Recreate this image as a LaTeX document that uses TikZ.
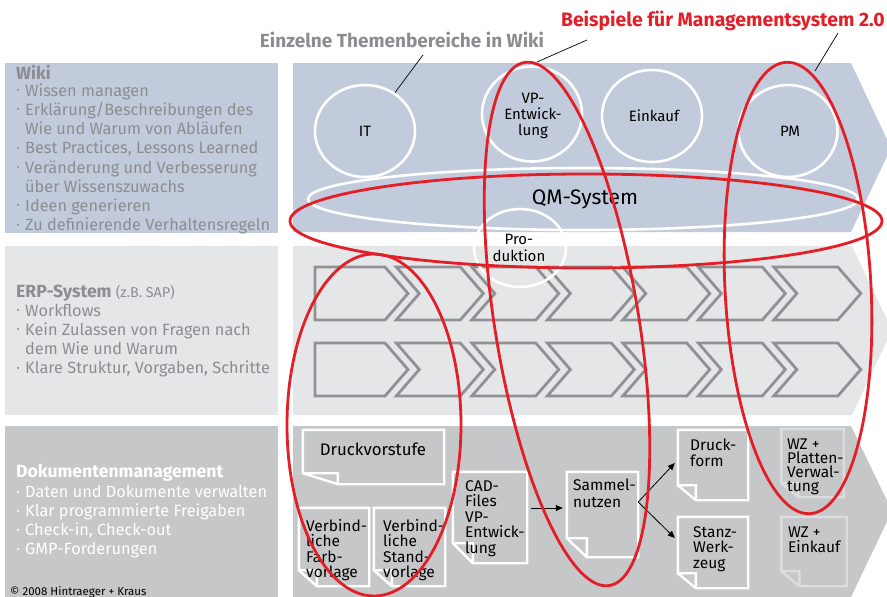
\documentclass[tikz,border=0pt]{standalone}
\usepackage{fontspec}
\setmainfont{Fira Sans}
\usetikzlibrary{shapes.geometric,arrows.meta}
\definecolor{wikibg}{HTML}{C2CBDB}
\definecolor{erpbg}{HTML}{E5E6E8}
\definecolor{dokbg}{HTML}{C6C7C9}
\definecolor{txtgray}{HTML}{8C8D90}
\definecolor{chevgray}{HTML}{909195}
\definecolor{mred}{HTML}{E41E26}
\definecolor{lightdoc}{HTML}{DCDDDF}
\newcommand\bul{\makebox[9pt][l]{\hspace{0.5pt}\raisebox{0.3ex}{\fontsize{9}{9}\selectfont •}}}
\newcommand\ind{\hspace*{9pt}}
\newcommand\docpage[4]{\draw[#4] (#1.north west) -- (#1.north east) -- (#1.south east) -- ([xshift=#2 pt]#1.south west) -- ([xshift=#2 pt,yshift=#3 pt]#1.south west) -- ([yshift=#3 pt]#1.south west) -- cycle ([yshift=#3 pt]#1.south west) -- ([xshift=#2 pt]#1.south west);}
\begin{document}
\begin{tikzpicture}[x=1pt,y=-1pt,
  leftpanel/.style={rectangle, inner sep=0pt, anchor=north west, minimum width=273pt},
  topic/.style={ellipse, draw=white, line width=2.6pt, inner sep=0pt},
  ctext/.style={font=\fontsize{15}{16}\selectfont, align=center, inner sep=0pt},
  redring/.style={ellipse, draw=mred, line width=2.8pt, inner sep=0pt},
  chev/.style={draw=chevgray, line width=2.8pt, line join=miter},
  docframe/.style={rectangle, inner sep=0pt},
  docline/.style={draw=white, line width=2.4pt},
  doclight/.style={draw=lightdoc, line width=2.4pt},
  doctext/.style={font=\fontsize{15.5}{15.5}\selectfont, align=left, inner sep=0pt, anchor=base west},
  lefttext/.style={font=\fontsize{16.3}{19.2}\selectfont, align=left, inner sep=0pt, anchor=base west},
  lefthead/.style={font=\fontsize{17.6}{19.2}\selectfont\bfseries, inner sep=0pt, anchor=base west},
  leader/.style={draw=black, line width=0.7pt},
  flow/.style={-{Triangle[length=7pt,width=6pt]}, line width=0.8pt}]
\useasboundingbox (0,0) rectangle (887,597);
\fill[white] (0,0) rectangle (887,597);
% left panels
\node[leftpanel, fill=wikibg, minimum height=170pt] (wikipanel) at (5,63) {};
\node[leftpanel, fill=erpbg, minimum height=169pt] (erppanel) at (5,246) {};
\node[leftpanel, fill=dokbg, minimum height=171pt] (dokpanel) at (5,426) {};
% right panels
\fill[wikibg] (293,63) -- (851,63) -- (891,148) -- (851,232) -- (293,232) -- cycle;
\fill[erpbg] (293,246) -- (852,246) -- (892,330) -- (852,415) -- (293,415) -- cycle;
\fill[dokbg] (293,426) -- (851,426) -- (892,511) -- (851,597) -- (293,597) -- cycle;
% titles
\node[font=\fontsize{19}{19}\selectfont\bfseries, text=txtgray, inner sep=0pt, anchor=base] (ttl1) at (402,47.7) {Einzelne Themenbereiche in Wiki};
\node[font=\fontsize{19.4}{19.4}\selectfont\bfseries, text=mred, inner sep=0pt, anchor=base east] (ttl2) at (885,26) {Beispiele für Managementsystem 2.0};
% left texts
\node[lefthead, text=txtgray] (wikihead) at (16,79) {Wiki};
\node[lefttext, text=txtgray] (wikilist) at (16,230.6) {\bul Wissen managen\\
\bul Erklärung/Beschreibungen des\\ \ind Wie und Warum von Abläufen\\
\bul Best Practices, Lessons Learned\\ \bul Veränderung und Verbesserung\\
\ind über Wissenszuwachs\\ \bul Ideen generieren\\ \bul Zu definierende Verhaltensregeln};
\node[lefthead, text=txtgray] (erphead) at (16,297) {ERP-System {\mdseries\fontsize{14.3}{14.3}\selectfont (z.B. SAP)}};
\node[lefttext, text=txtgray] (erplist) at (16,373.8) {\bul Workflows\\ \bul Kein Zulassen von Fragen nach\\ \ind dem Wie und Warum\\ \bul Klare Struktur, Vorgaben, Schritte};
\node[lefthead, text=white] (dokhead) at (16,477) {Dokumentenmanagement};
\node[lefttext, text=white, font=\fontsize{16.3}{19}\selectfont] (doklist) at (16,554.7) {\bul Daten und Dokumente verwalten\\ \bul Klar programmierte Freigaben\\ \bul Check-in, Check-out\\ \bul GMP-Forderungen};
\node[font=\fontsize{11.5}{11.5}\selectfont, inner sep=0pt, anchor=base west] (copy) at (10,595) {© 2008 Hintraeger + Kraus};
% chevrons
\foreach \row in {267,343} {
  \draw[chev] (315,\row) -- (385,\row) -- (408,\row+26.5) -- (385,\row+53) -- (315,\row+53) -- cycle;
  \foreach \k in {1,...,6} {
    \pgfmathsetmacro\T{407.8+75.5*\k}
    \draw[chev] (\T-87,\row) -- (\T-23,\row) -- (\T,\row+26.5) -- (\T-23,\row+53) -- (\T-87,\row+53) -- (\T-64,\row+26.5) -- cycle;
  }
}
% wiki topic circles
\node[topic, minimum width=100pt, minimum height=92pt] (it) at (365,131) {};
\node[topic, minimum width=100pt, minimum height=95pt] (vp) at (532,114) {};
\node[topic, minimum width=100pt, minimum height=92pt] (ein) at (652,116) {};
\node[topic, minimum width=99pt, minimum height=92pt] (pm) at (788,131) {};
\node[topic, minimum width=550pt, minimum height=62pt] (qm) at (583,199) {};
\node[topic, minimum width=92pt, minimum height=78pt] (prod) at (520,248) {};
\node[ctext] (itt) at (365,131) {IT};
\node[ctext] (vpt) at (533,116) {VP-\\Entwick-\\lung};
\node[ctext] (eint) at (654,116) {Einkauf};
\node[ctext] (pmt) at (790,131) {PM};
\node[font=\fontsize{21}{21}\selectfont, inner sep=0pt] (qmt) at (585,199) {QM-System};
\node[ctext, font=\fontsize{15}{16.5}\selectfont] (prodt) at (519,248) {Pro-\\duktion};
% documents
\node[docframe, minimum width=141pt, minimum height=54pt] (druck) at (373.5,457) {};
\node[docframe, minimum width=70pt, minimum height=78pt] (farb) at (334,547) {};
\node[docframe, minimum width=71pt, minimum height=78pt] (stand) at (409.5,547) {};
\node[docframe, minimum width=74pt, minimum height=91pt] (cad) at (490,517.5) {};
\node[docframe, minimum width=71pt, minimum height=85pt] (sammel) at (602.5,514.5) {};
\node[docframe, minimum width=70pt, minimum height=70pt] (dform) at (713,465) {};
\node[docframe, minimum width=70pt, minimum height=71pt] (stanz) at (713,552.5) {};
\node[docframe, minimum width=62pt, minimum height=68pt] (platten) at (812.5,463) {};
\node[docframe, minimum width=65pt, minimum height=69pt] (wzein) at (814,551.5) {};
\docpage{druck}{35}{11}{docline}
\docpage{farb}{18}{16}{docline}
\docpage{stand}{18}{16}{docline}
\docpage{cad}{20}{20}{docline}
\docpage{sammel}{20}{19}{docline}
\docpage{dform}{18}{15}{docline}
\docpage{stanz}{18}{15}{docline}
\docpage{platten}{17}{14}{doclight}
\docpage{wzein}{18}{15}{doclight}
\node[font=\fontsize{16.8}{16.8}\selectfont, inner sep=0pt] (drucktxt) at (373,449) {Druckvorstufe};
\node[doctext] (farbtxt) at (306,577.5) {Verbind-\\liche\\Farb-\\vorlage};
\node[doctext] (standtxt) at (383,577.5) {Verbind-\\liche\\Stand-\\vorlage};
\node[doctext] (cadtxt) at (465,553) {CAD-\\Files\\VP-\\Entwick-\\lung};
\node[doctext, font=\fontsize{15.5}{17}\selectfont] (sammeltxt) at (573,507) {Sammel-\\nutzen};
\node[doctext, font=\fontsize{15.5}{16}\selectfont] (dformtxt) at (690,466) {Druck-\\form};
\node[doctext] (stanztxt) at (693,568) {Stanz-\\Werk-\\zeug};
\node[doctext, font=\fontsize{15.5}{14.3}\selectfont] (plattentxt) at (787,491.9) {WZ +\\Platten-\\Verwal-\\tung};
\node[doctext] (wzeintxt) at (788,552.5) {WZ +\\Einkauf};
% flow arrows
\draw[flow] ([xshift=4pt,yshift=9.5pt]cad.east) -- ([xshift=-4pt,yshift=6.5pt]sammel.west);
\draw[flow] ([yshift=12.5pt]sammel.east) -- ([xshift=-3pt,yshift=2pt]dform.west);
\draw[flow] ([yshift=12.5pt]sammel.east) -- ([xshift=-3pt,yshift=14.5pt]stanz.west);
% leader lines
\coordinate (l1a) at (423,55);
\coordinate (l2a) at (587,40);
\coordinate (l3a) at (838,33);
\draw[leader] (l1a) -- (it.52);
\draw[leader] (l2a) -- (537,62);
\draw[leader] (l3a) -- (815,71);
% red rings
\node[redring, minimum width=592pt, minimum height=94pt] (redh) at (586,221) {};
\node[redring, minimum width=174pt, minimum height=342pt] (redl) at (374,425) {};
\node[redring, minimum width=144pt, minimum height=530pt, rotate=9.2] (redvp) at (567,324) {};
\node[redring, minimum width=146pt, minimum height=452pt, rotate=3] (redpm) at (798,288) {};
\end{tikzpicture}
\end{document}
